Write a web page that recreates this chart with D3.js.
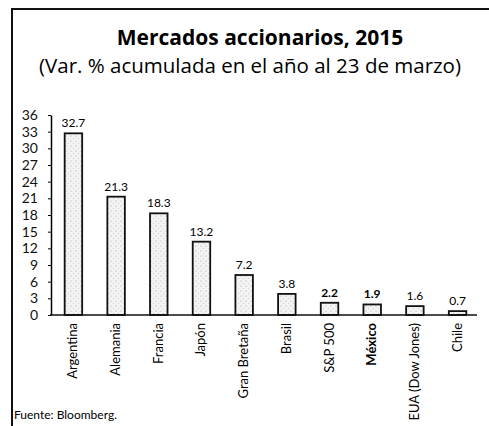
<!DOCTYPE html>
<html>
<head>
<meta charset="utf-8">
<script src="https://cdn.jsdelivr.net/npm/d3@7"></script>
<style>
  body { margin: 0; background: #fff; }
  svg { display: block; font-family: Lato, "Open Sans", sans-serif; }
</style>
</head>
<body>
<div id="chart"></div>
<script>
const categories = ["Argentina", "Alemania", "Francia", "Japón", "Gran Bretaña", "Brasil", "S&P 500", "México", "EUA (Dow Jones)", "Chile"];
const values = [32.7, 21.3, 18.3, 13.2, 7.2, 3.8, 2.2, 1.9, 1.6, 0.7];
const boldLabels = ["S&P 500", "México"]; // valores en negrita
const boldCategories = ["México"];
const yTicks = [0, 3, 6, 9, 12, 15, 18, 21, 24, 27, 30, 33, 36];

const width = 489, height = 426;
const margin = {left: 51, right: 12, top: 115, bottom: 111};

const svg = d3.select("#chart").append("svg")
    .attr("width", width)
    .attr("height", height);

// patrón punteado de las barras
const pat = svg.append("defs").append("pattern")
    .attr("id", "stipple")
    .attr("width", 5).attr("height", 5)
    .attr("patternUnits", "userSpaceOnUse");
pat.append("rect").attr("width", 5).attr("height", 5).attr("fill", "#f3f3f3");
pat.append("circle").attr("cx", 1).attr("cy", 1).attr("r", 0.6).attr("fill", "#aaa");
pat.append("circle").attr("cx", 3.5).attr("cy", 3.5).attr("r", 0.5).attr("fill", "#c4c4c4");

// marco
svg.append("path")
    .attr("d", `M12,${height} L12,9 L${width},9`)
    .attr("fill", "none")
    .attr("stroke", "#111")
    .attr("stroke-width", 2);

svg.append("text")
    .attr("x", 260).attr("y", 45)
    .attr("text-anchor", "middle")
    .attr("font-family", "'Open Sans', sans-serif")
    .attr("font-size", 21).attr("font-weight", "bold")
    .text("Mercados accionarios, 2015");

svg.append("text")
    .attr("x", 250).attr("y", 73)
    .attr("text-anchor", "middle")
    .attr("font-family", "'Open Sans', sans-serif")
    .attr("font-size", 20.5)
    .text("(Var. % acumulada en el año al 23 de marzo)");

const x = d3.scaleBand()
    .domain(categories)
    .range([margin.left + 3, width - margin.right])
    .paddingInner(0.59)
    .paddingOuter(0.25);

const y = d3.scaleLinear()
    .domain([0, 36])
    .range([height - margin.bottom, margin.top]);

svg.append("g")
    .attr("transform", `translate(${margin.left},0)`)
    .call(d3.axisLeft(y).tickValues(yTicks).tickSize(3).tickSizeOuter(0))
    .call(g => g.select(".domain").attr("stroke-width", 1.5))
    .call(g => g.selectAll("text").attr("font-size", 14).attr("font-family", "Lato, sans-serif").attr("fill", "#111").attr("x", -13));

svg.append("g")
    .selectAll("rect")
    .data(values)
    .join("rect")
    .attr("x", (d, i) => x(categories[i]))
    .attr("y", d => y(d))
    .attr("width", x.bandwidth())
    .attr("height", d => y(0) - y(d))
    .attr("fill", "url(#stipple)")
    .attr("stroke", "#111")
    .attr("stroke-width", 1.8);

svg.append("line")
    .attr("x1", margin.left - 1).attr("x2", width - margin.right)
    .attr("y1", y(0)).attr("y2", y(0))
    .attr("stroke", "#111")
    .attr("stroke-width", 1.5);

svg.append("g")
    .selectAll("text")
    .data(values)
    .join("text")
    .attr("x", (d, i) => x(categories[i]) + x.bandwidth() / 2)
    .attr("y", d => y(d) - 6)
    .attr("text-anchor", "middle")
    .attr("font-size", 12)
    .attr("font-weight", (d, i) => boldLabels.includes(categories[i]) ? "bold" : null)
    .text(d => d.toFixed(1));

svg.append("g")
    .selectAll("text")
    .data(categories)
    .join("text")
    .attr("transform", d => `translate(${x(d) + x.bandwidth() / 2 + 4},${y(0) + 8}) rotate(-90)`)
    .attr("text-anchor", "end")
    .attr("font-size", 13)
    .attr("font-weight", d => boldCategories.includes(d) ? "bold" : null)
    .text(d => d);

svg.append("text")
    .attr("x", 14).attr("y", 419)
    .attr("font-size", 12)
    .text("Fuente: Bloomberg.");
</script>
</body>
</html>
